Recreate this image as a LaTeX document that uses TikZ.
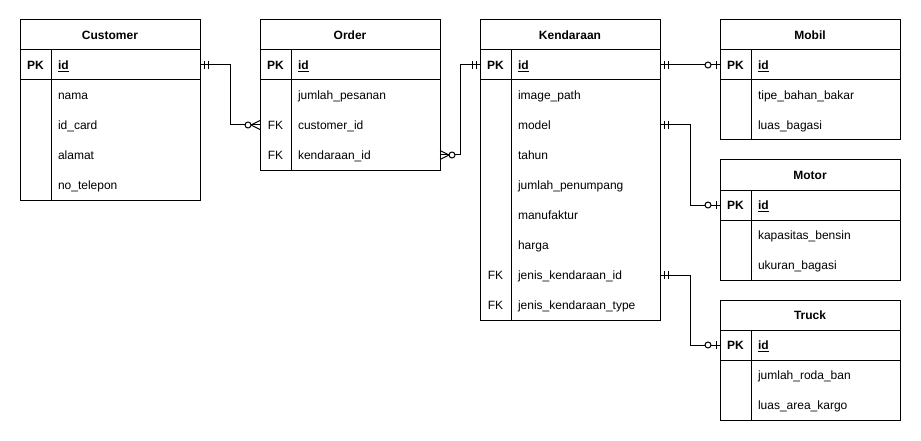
\documentclass[tikz,border=0pt]{standalone}
\usepackage{fontspec}
\setmainfont{Liberation Sans}
\usetikzlibrary{positioning,calc}

\newcommand{\erdfont}{\fontsize{12pt}{14pt}\selectfont}

\tikzset{
  every node/.append style={font=\erdfont, text height=10.4pt, text depth=1.4pt, outer sep=0pt},
  tblhead/.style={draw, minimum width=180pt, minimum height=30pt, inner sep=0pt, font=\erdfont\bfseries},
  pkrow/.style={draw, minimum width=180pt, minimum height=30pt, inner sep=0pt, below=0pt of #1},
  keytxt/.style={inner sep=0pt},
  field/.style={anchor=west, inner sep=0pt},
  % crow's foot ends, x pointing away from the table
  mandone/.pic={\draw (4,-4) -- (4,4) (8,-4) -- (8,4);},
  zeroone/.pic={\draw (4,-4) -- (4,4); \draw[fill=white] (12,0) circle (3pt);},
  zeromany/.pic={\draw (0,-4.5) -- (9,0) -- (0,4.5); \draw[fill=white] (12,0) circle (3pt);},
}

\begin{document}
\begin{tikzpicture}[x=1pt,y=-1pt,line width=1pt]
  \path[fill=white] (0,0) rectangle (921,441);
  \useasboundingbox (0,0) rectangle (921,441);

  % tables
  \foreach \tb/\x/\y/\title/\n in {cust/20/20/Customer/4,ord/260/20/Order/3,kend/480/20/Kendaraan/8,mobil/720/20/Mobil/2,motor/720/160/Motor/2,truck/720/300/Truck/2}{
    \node[tblhead] (\tb) at (\x+90,\y+15) {\title};
    \node[pkrow=\tb] (\tb-pk) {};
    \node[keytxt, font=\erdfont\bfseries] at ($(\tb-pk.west)+(15.5,0)$) {PK};
    \node[field, font=\erdfont\bfseries] at ($(\tb-pk.west)+(38,0)$) {\underline{id}};
    \draw (\tb-pk.south west) rectangle ++(180,30*\n);
    \draw ($(\tb-pk.north west)+(31,0)$) -- ++(0,30+30*\n);
  }

  % fields
  \foreach \k/\f [count=\i] in {/nama,/id\_card,/alamat,/no\_telepon}{
    \node[keytxt] at ($(cust-pk.west)+(15.5,30*\i)$) {\k};
    \node[field] (cust-f\i) at ($(cust-pk.west)+(38,30*\i)$) {\f};
  }
  \foreach \k/\f [count=\i] in {/jumlah\_pesanan,FK/customer\_id,FK/kendaraan\_id}{
    \node[keytxt] at ($(ord-pk.west)+(15.5,30*\i)$) {\k};
    \node[field] (ord-f\i) at ($(ord-pk.west)+(38,30*\i)$) {\f};
  }
  \foreach \k/\f [count=\i] in {/image\_path,/model,/tahun,/jumlah\_penumpang,/manufaktur,/harga,FK/jenis\_kendaraan\_id,FK/jenis\_kendaraan\_type}{
    \node[keytxt] at ($(kend-pk.west)+(15.5,30*\i)$) {\k};
    \node[field] (kend-f\i) at ($(kend-pk.west)+(38,30*\i)$) {\f};
  }
  \foreach \k/\f [count=\i] in {/tipe\_bahan\_bakar,/luas\_bagasi}{
    \node[keytxt] at ($(mobil-pk.west)+(15.5,30*\i)$) {\k};
    \node[field] (mobil-f\i) at ($(mobil-pk.west)+(38,30*\i)$) {\f};
  }
  \foreach \k/\f [count=\i] in {/kapasitas\_bensin,/ukuran\_bagasi}{
    \node[keytxt] at ($(motor-pk.west)+(15.5,30*\i)$) {\k};
    \node[field] (motor-f\i) at ($(motor-pk.west)+(38,30*\i)$) {\f};
  }
  \foreach \k/\f [count=\i] in {/jumlah\_roda\_ban,/luas\_area\_kargo}{
    \node[keytxt] at ($(truck-pk.west)+(15.5,30*\i)$) {\k};
    \node[field] (truck-f\i) at ($(truck-pk.west)+(38,30*\i)$) {\f};
  }

  % relations
  \draw (cust-pk.east) -- ++(30,0) |- (ord-pk.west |- ord-f2);
  \draw (ord-pk.east |- ord-f3) -- ++(20,0) |- (kend-pk.west);
  \draw (kend-pk.east) -- (mobil-pk.west);
  \draw (kend-pk.east |- kend-f2) -- ++(30,0) |- (motor-pk.west);
  \draw (kend-pk.east |- kend-f7) -- ++(30,0) |- (truck-pk.west);

  \pic at (cust-pk.east) {mandone};
  \pic[xscale=-1] at (ord-pk.west |- ord-f2) {zeromany};
  \pic at (ord-pk.east |- ord-f3) {zeromany};
  \pic[xscale=-1] at (kend-pk.west) {mandone};
  \pic at (kend-pk.east) {mandone};
  \pic[xscale=-1] at (mobil-pk.west) {zeroone};
  \pic at (kend-pk.east |- kend-f2) {mandone};
  \pic[xscale=-1] at (motor-pk.west) {zeroone};
  \pic at (kend-pk.east |- kend-f7) {mandone};
  \pic[xscale=-1] at (truck-pk.west) {zeroone};
\end{tikzpicture}
\end{document}
